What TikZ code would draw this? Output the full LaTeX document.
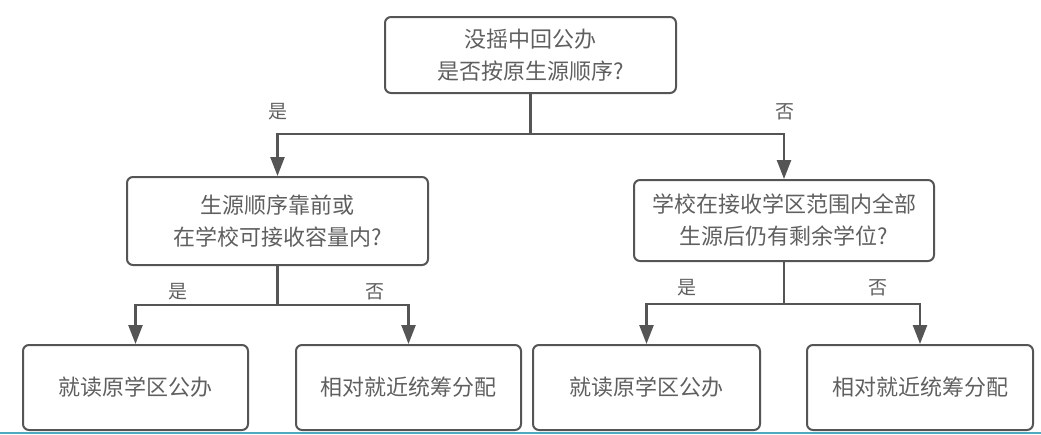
\documentclass[tikz,border=0pt]{standalone}
\usepackage{fontspec}
\newfontfamily\cjk{Noto Sans CJK SC}
\usetikzlibrary{arrows.meta}
\definecolor{linec}{RGB}{85,85,85}
\definecolor{textc}{RGB}{95,95,95}
\definecolor{edgec}{RGB}{80,170,190}
\begin{document}
\begin{tikzpicture}[x=1pt,y=-1pt,
  box/.style={draw=linec, line width=2pt, rounded corners=6pt, text=textc,
    font=\cjk\fontsize{22}{32}\selectfont, align=center, inner sep=0pt},
  conn/.style={draw=linec, line width=2.5pt},
  arr/.style={conn, -{Triangle[length=19pt,width=14pt]}},
  lab/.style={text=textc, font=\cjk\fontsize{19}{20}\selectfont, inner sep=0pt}]
\useasboundingbox (0,0) rectangle (1041,434);
\node[box, minimum width=291pt, minimum height=76pt] (top) at (530.5,55) {没摇中回公办\\是否按原生源顺序?};
\node[box, minimum width=301pt, minimum height=88pt] (mL) at (277.5,221) {生源顺序靠前或\\在学校可接收容量内?};
\node[box, minimum width=300pt, minimum height=81pt] (mR) at (784,220.5) {学校在接收学区范围内全部\\生源后仍有剩余学位?};
\node[box, minimum width=225pt, minimum height=85pt] (b1) at (135.5,387.5) {就读原学区公办};
\node[box, minimum width=225pt, minimum height=85pt] (b2) at (408.5,387.5) {相对就近统筹分配};
\node[box, minimum width=227pt, minimum height=85pt] (b3) at (646.5,387.5) {就读原学区公办};
\node[box, minimum width=226pt, minimum height=85pt] (b4) at (920,387.5) {相对就近统筹分配};
\coordinate (j0) at (530.5,134);
\coordinate (j1) at (277.5,305);
\coordinate (j2) at (784,304);
\draw[conn] (top.south) -- (j0);
\draw[arr] (j0) -| (mL.north);
\draw[arr] (j0) -| (mR.north);
\draw[conn] (mL.south) -- (j1);
\draw[arr] (j1) -| (b1.north);
\draw[arr] (j1) -| (b2.north);
\draw[conn] (mR.south) -- (j2);
\draw[arr] (j2) -| (b3.north);
\draw[arr] (j2) -| (b4.north);
\node[lab] (l1) at (278,112) {是};
\node[lab] (l2) at (785,112) {否};
\node[lab] (l3) at (178,292) {是};
\node[lab] (l4) at (375,292) {否};
\node[lab] (l5) at (687,288) {是};
\node[lab] (l6) at (878,288) {否};
\draw[draw=edgec, line width=1.5pt] (0,432.8) -- (1041,432.8);
\end{tikzpicture}
\end{document}
